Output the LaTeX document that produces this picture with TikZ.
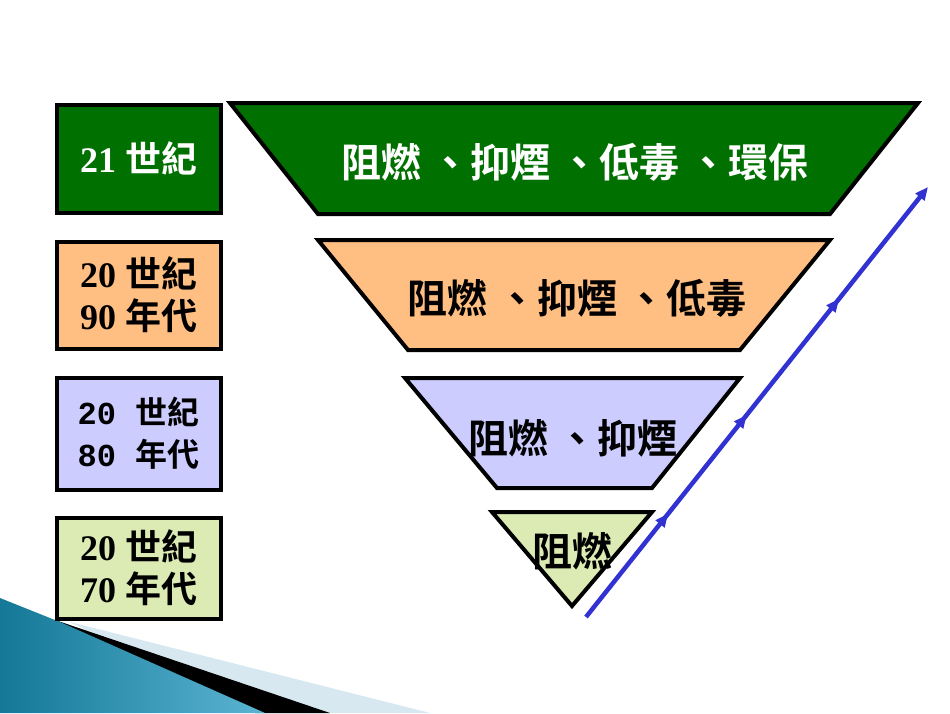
\documentclass[tikz,border=0pt]{standalone}
\usepackage{fontspec}
\setmainfont{Liberation Serif}
\setmonofont{Liberation Mono}
\newfontfamily\cjk{Noto Sans CJK TC}[BoldFont={* Bold}]
\usetikzlibrary{arrows.meta,decorations.markings}
\definecolor{dgreen}{RGB}{0,112,0}
\definecolor{orng}{RGB}{255,190,130}
\definecolor{lav}{RGB}{204,204,255}
\definecolor{lgreen}{RGB}{220,235,180}
\definecolor{teal}{RGB}{20,120,150}
\definecolor{lteal}{RGB}{90,180,210}
\definecolor{pale}{RGB}{215,232,240}
\definecolor{arrblue}{RGB}{50,50,210}
\begin{document}
\begin{tikzpicture}[x=1pt,y=-1pt,
  era/.style={draw=black,line width=4pt,minimum width=164pt,inner sep=0pt,align=center,font=\bfseries\fontsize{36}{42}\selectfont},
  tshape/.style={draw=black,line width=4pt,line join=miter},
  lbl/.style={font=\cjk\bfseries\fontsize{40}{46}\selectfont}]
\useasboundingbox (0,0) rectangle (950,713);
\fill[white] (0,0) rectangle (950,713);
% decoration
\fill[pale] (70,622) -- (430,713) -- (250,713) -- cycle;
\fill[black] (55,620) -- (330,713) -- (255,713) -- cycle;
\shade[left color=teal,right color=lteal] (0,598) -- (60,622) -- (265,713) -- (0,713) -- cycle;
% era boxes
\node[era,fill=dgreen,text=white,minimum height=108pt] (e1) at (138.5,158.5) {21 {\cjk 世紀}};
\node[era,fill=orng,minimum height=107pt] (e2) at (138.5,295) {20 {\cjk 世紀}\\90 {\cjk 年代}};
\node[era,fill=lav,minimum height=112pt,font=\bfseries\fontsize{32}{42}\selectfont] (e3) at (138.5,433.5) {\ttfamily 20 {\rmfamily\cjk 世紀}\\\ttfamily 80 {\rmfamily\cjk 年代}};
\node[era,fill=lgreen,minimum height=101pt] (e4) at (138.5,568) {20 {\cjk 世紀}\\70 {\cjk 年代}};
% trapezoids
\draw[tshape,fill=dgreen] (230,103) -- (918,103) -- (830,214) -- (318,214) -- cycle;
\draw[tshape,fill=orng] (318,240) -- (830,240) -- (740,350) -- (408,350) -- cycle;
\draw[tshape,fill=lav] (405,378) -- (740,378) -- (652,488) -- (497,488) -- cycle;
\draw[tshape,fill=lgreen] (492,512) -- (652,512) -- (572,606) -- cycle;
\node[lbl,text=white] (t1) at (575,162) {阻燃 、抑煙 、低毒 、環保};
\node[lbl] (t2) at (577,298) {阻燃 、抑煙 、低毒};
\node[lbl] (t3) at (573,438) {阻燃 、抑煙};
\node[lbl] (t4) at (572,551) {阻燃};
% arrow
\coordinate (a0) at (586,617);
\coordinate (a1) at (928,187);
\draw[arrblue,line width=4.5pt,-{Triangle[length=13pt,width=11pt]},
  postaction={decorate,decoration={markings,
   mark=at position 0.24 with {\arrow{Triangle[length=13pt,width=11pt]}},
   mark=at position 0.47 with {\arrow{Triangle[length=13pt,width=11pt]}},
   mark=at position 0.74 with {\arrow{Triangle[length=13pt,width=11pt]}}}}] (a0) -- (a1);
\end{tikzpicture}
\end{document}
